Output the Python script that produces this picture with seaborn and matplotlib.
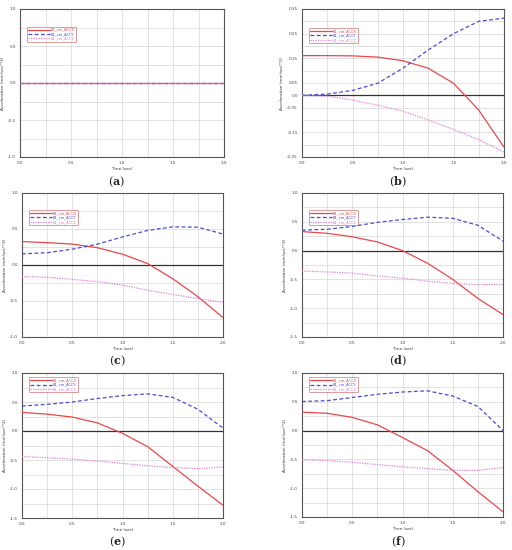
import numpy as np
import pandas as pd
import matplotlib
matplotlib.use("Agg")
import matplotlib.pyplot as plt
import seaborn as sns

sns.set_theme(style="whitegrid")
plt.rcParams['font.family'] = ['DejaVu Sans']
plt.rcParams['mathtext.fontset'] = 'dejavuserif'

time = [0.0, 0.25, 0.5, 0.75, 1.0, 1.25, 1.5, 1.75, 2.0]
series_names = ["B1_cm_ACCX", "B1_cm_ACCY", "B1_cm_ACCZ"]
panel_labels = ["a", "b", "c", "d", "e", "f"]

a_x = [0, 0, 0, 0, 0, 0, 0, 0, 0]
a_y = [0, 0, 0, 0, 0, 0, 0, 0, 0]
a_z = [0, 0, 0, 0, 0, 0, 0, 0, 0]

b_x = [0.161, 0.161, 0.160, 0.155, 0.140, 0.110, 0.049, -0.060, -0.210]
b_y = [0.0, 0.005, 0.020, 0.049, 0.110, 0.184, 0.250, 0.300, 0.313]
b_z = [0.0, -0.003, -0.019, -0.040, -0.064, -0.100, -0.138, -0.180, -0.230]

c_x = [0.326, 0.31, 0.29, 0.24, 0.15, 0.02, -0.19, -0.44, -0.73]
c_y = [0.155, 0.17, 0.22, 0.29, 0.39, 0.48, 0.53, 0.525, 0.43]
c_z = [-0.16, -0.17, -0.20, -0.23, -0.28, -0.35, -0.41, -0.465, -0.52]

d_x = [0.33, 0.30, 0.24, 0.15, 0.0, -0.22, -0.50, -0.83, -1.11]
d_y = [0.355, 0.37, 0.42, 0.49, 0.54, 0.58, 0.56, 0.44, 0.165]
d_z = [-0.355, -0.37, -0.39, -0.44, -0.48, -0.53, -0.57, -0.59, -0.59]

e_x = [0.32, 0.29, 0.24, 0.14, -0.04, -0.27, -0.61, -0.95, -1.28]
e_y = [0.43, 0.46, 0.50, 0.56, 0.61, 0.64, 0.58, 0.375, 0.05]
e_z = [-0.44, -0.46, -0.485, -0.52, -0.56, -0.60, -0.63, -0.65, -0.62]

f_x = [0.32, 0.30, 0.23, 0.10, -0.12, -0.35, -0.69, -1.06, -1.41]
f_y = [0.505, 0.52, 0.575, 0.63, 0.67, 0.69, 0.60, 0.42, 0.0]
f_z = [-0.51, -0.52, -0.55, -0.59, -0.63, -0.66, -0.69, -0.69, -0.645]

panels = [(a_x, a_y, a_z), (b_x, b_y, b_z), (c_x, c_y, c_z),
          (d_x, d_y, d_z), (e_x, e_y, e_z), (f_x, f_y, f_z)]

ylims = [(-1.0, 1.0), (-0.25, 0.35), (-1.0, 1.0), (-1.5, 1.0), (-1.5, 1.0), (-1.5, 1.0)]
yticks_major = [
    [-1.0, -0.5, 0.0, 0.5, 1.0],
    [-0.25, -0.15, -0.05, 0.0, 0.05, 0.15, 0.25, 0.35],
    [-1.0, -0.5, 0.0, 0.5, 1.0],
    [-1.5, -1.0, -0.5, 0.0, 0.5, 1.0],
    [-1.5, -1.0, -0.5, 0.0, 0.5, 1.0],
    [-1.5, -1.0, -0.5, 0.0, 0.5, 1.0],
]
ystep = [0.25, 0.05, 0.25, 0.25, 0.25, 0.25]
legend_top = [0.88, 0.87, 0.88, 0.88, 0.97, 0.97]

colors = ["#e8474a", "#4a4ad8", "#e37fd6"]
styles = ["-", (0, (3, 2)), (0, (1, 1))]

fig = plt.figure(figsize=(5.12, 5.5), dpi=100)
W, H = 512, 550
boxes = [
    (20, 9, 224, 157), (302, 9, 504, 157),
    (22, 193, 223, 337), (302, 193, 503, 337),
    (22, 373, 223, 518), (302, 373, 503, 517),
]
label_pos = [(117, 182), (398, 182), (117, 361), (398, 361), (117, 542), (398, 542)]

for i, (vals, box) in enumerate(zip(panels, boxes)):
    l, t, r, b = box
    ax = fig.add_axes([l / W, 1 - b / H, (r - l) / W, (b - t) / H])
    ax.set_facecolor("white")
    if i > 0:
        ax.axhline(0, color="#333333", lw=0.9, zorder=1)
    for name, v, c, s in zip(series_names, vals, colors, styles):
        df = pd.DataFrame({"t": time, "v": v})
        sns.lineplot(data=df, x="t", y="v", ax=ax, color=c, linestyle=s,
                     lw=0.9, label=name, zorder=3)
    ax.set_xlim(0, 2.0)
    ax.set_ylim(*ylims[i])
    ax.set_xticks(np.arange(0, 2.01, 0.25), minor=True)
    ax.set_xticks([0.0, 0.5, 1.0, 1.5, 2.0])
    ax.set_xticklabels(["0.0", "0.5", "1.0", "1.5", "2.0"])
    lo, hi = ylims[i]
    ax.set_yticks(np.arange(lo, hi + 1e-9, ystep[i]), minor=True)
    ax.set_yticks(yticks_major[i])
    ax.set_yticklabels([("%.2f" % y if i == 1 and abs(y) > 1e-9 else "%.1f" % y) for y in yticks_major[i]])
    ax.grid(True, which="both", color="#d6d6d6", lw=0.5)
    ax.tick_params(which="both", labelsize=3, length=1.5, width=0.4, pad=1.5, colors="#444444")
    ax.tick_params(which="minor", length=0)
    for sp in ax.spines.values():
        sp.set_color("#555555")
        sp.set_linewidth(0.8)
    ax.set_xlabel("Time (sec)", fontsize=3, labelpad=1.5, color="#333333")
    ax.set_ylabel("Acceleration (mm/sec**2)", fontsize=3, labelpad=2, color="#333333")
    leg = ax.legend(loc="upper left", bbox_to_anchor=(0.035, legend_top[i]), fontsize=2.6,
                    frameon=True, fancybox=True, handlelength=6, handletextpad=0.3,
                    borderpad=0.3, labelspacing=0.1, borderaxespad=0)
    leg.get_frame().set_edgecolor("#c05050")
    leg.get_frame().set_linewidth(0.5)
    for txt, c in zip(leg.get_texts(), colors):
        txt.set_color(c)
    lx, ly = label_pos[i]
    fig.text(lx / W, 1 - ly / H, r"($\mathbf{%s}$)" % panel_labels[i],
             ha="center", va="center", fontsize=8, family="DejaVu Serif")

fig.savefig("out.png", dpi=100, facecolor="white")
